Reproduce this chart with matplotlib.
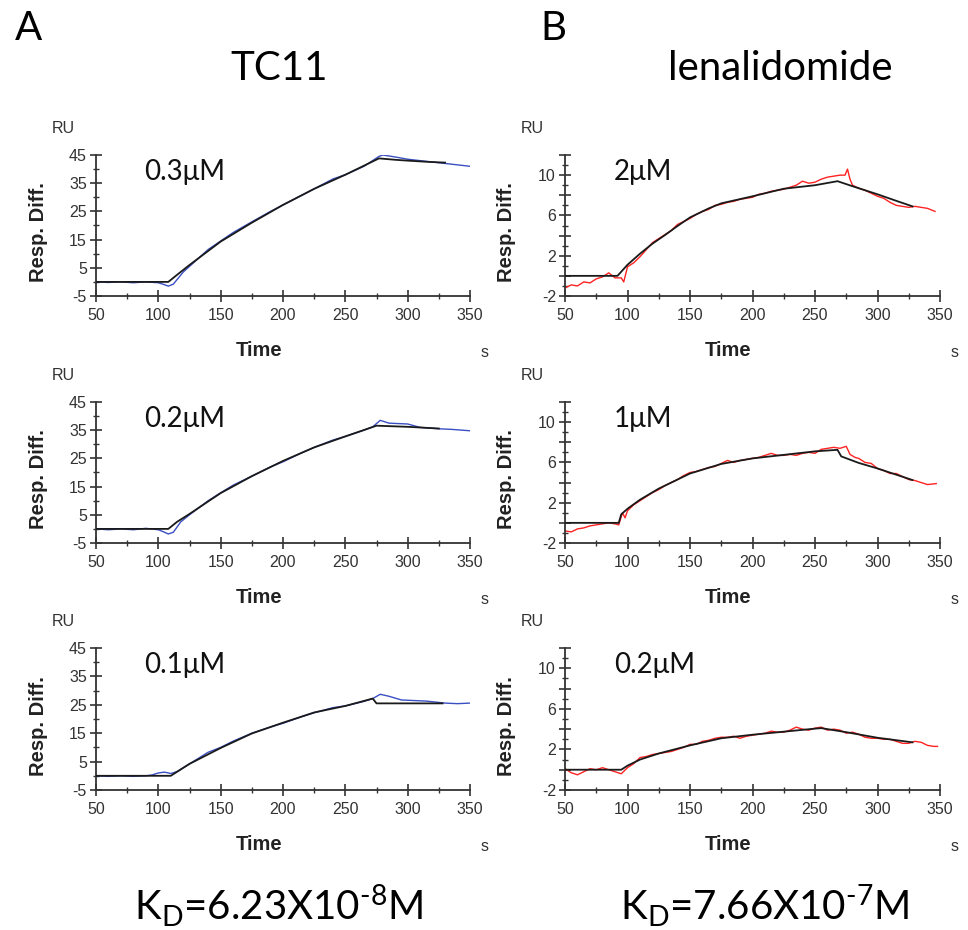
import matplotlib
import matplotlib.pyplot as plt
from matplotlib.ticker import MultipleLocator
matplotlib.use('Agg')

plt.rcParams['font.family'] = ['Lato', 'DejaVu Sans']
plt.rcParams['mathtext.fontset'] = 'custom'
plt.rcParams['mathtext.rm'] = 'Lato'
plt.rcParams['mathtext.default'] = 'rm'

W, H = 968, 930

# ---- TC11 (left column), blue = measured, black = fit ----
tc11_conc = ['0.3μM', '0.2μM', '0.1μM']

tc11_fit_t = [
    [50, 108, 115, 125, 150, 175, 200, 225, 250, 277, 290, 300, 315, 330],
    [50, 108, 115, 125, 150, 175, 200, 225, 250, 275, 300, 325],
    [50, 110, 125, 150, 175, 200, 225, 250, 272, 275, 328],
]
tc11_fit = [
    [0, 0, 2.5, 6, 14.3, 21, 27.3, 33, 38, 43.8, 43.3, 43, 42.6, 42.3],
    [0, 0, 2.5, 5.3, 12.7, 18.7, 24.1, 28.9, 32.8, 36.6, 36.2, 35.6],
    [0, 0, 4.2, 9.8, 14.9, 18.7, 22.3, 24.6, 27.2, 25.5, 25.5],
]
tc11_obs_t = [
    [50, 60, 70, 80, 90, 100, 105, 108, 112, 120, 130, 140, 150, 160, 175, 190,
     200, 215, 225, 240, 250, 265, 277, 280, 290, 300, 310, 320, 330, 340, 350],
    [50, 60, 70, 80, 90, 100, 104, 108, 112, 118, 125, 140, 150, 160, 175, 190,
     200, 215, 225, 240, 250, 265, 272, 278, 285, 300, 310, 325, 335, 350],
    [50, 60, 70, 80, 90, 95, 100, 105, 110, 115, 125, 140, 150, 160, 175, 190,
     200, 215, 225, 240, 250, 265, 272, 278, 285, 295, 305, 315, 330, 340, 350],
]
tc11_obs = [
    [0, -0.2, 0, -0.3, 0, -0.3, -1.0, -1.5, -0.8, 3.5, 7.5, 11.5, 14.5, 17.5, 21.3, 25,
     27.3, 30.7, 33, 36.5, 38, 41, 44.5, 45, 44.3, 43.5, 43, 42.5, 42, 41.5, 41],
    [0, -0.3, 0, -0.3, 0.2, -0.3, -1.0, -1.8, -1.2, 2.5, 5, 10, 12.8, 15.5, 18.7, 22,
     23.8, 27, 28.9, 31.5, 32.8, 35, 36.2, 38.5, 37.5, 37.2, 36, 35.5, 35.3, 34.8],
    [0, -0.2, 0, -0.2, 0, 0.3, 1.0, 1.3, 0.8, 1.5, 4.2, 8.3, 10, 12.2, 15, 17.2,
     18.5, 20.8, 22.2, 24, 24.6, 26.2, 27.2, 28.7, 28, 26.7, 26.5, 26.3, 25.6, 25.4, 25.6],
]

# ---- lenalidomide (right column), red = measured, black = fit ----
len_conc = ['2μM', '1μM', '0.2μM']

len_fit_t = [
    [50, 92, 100, 110, 120, 130, 140, 150, 165, 175, 200, 225, 250, 268, 280, 300, 315, 328],
    [50, 93, 95, 100, 110, 125, 150, 175, 200, 225, 250, 268, 271, 285, 300, 328],
    [50, 95, 100, 110, 125, 150, 175, 200, 225, 250, 255, 275, 300, 328],
]
len_fit = [
    [0, 0, 1.1, 2.2, 3.2, 4.05, 4.95, 5.8, 6.7, 7.2, 7.9, 8.65, 9.0, 9.4, 8.9, 8.1, 7.45, 6.9],
    [0, 0, 0.85, 1.4, 2.3, 3.4, 4.9, 5.85, 6.4, 6.75, 7.1, 7.25, 6.6, 5.95, 5.4, 4.25],
    [0, 0, 0.4, 1.0, 1.6, 2.4, 3.1, 3.45, 3.75, 4.05, 4.1, 3.7, 3.15, 2.7],
]
len_obs_t = [
    [50, 55, 60, 65, 70, 75, 80, 85, 90, 95, 97, 100, 105, 110, 115, 120, 125, 130,
     135, 140, 145, 150, 155, 160, 165, 170, 175, 180, 185, 190, 195, 200, 205, 210,
     215, 220, 225, 230, 235, 240, 245, 250, 255, 260, 265, 270, 274, 276, 278, 280,
     285, 290, 295, 300, 305, 310, 315, 320, 325, 330, 335, 340, 346],
    [50, 55, 60, 65, 70, 75, 80, 85, 90, 93, 96, 98, 100, 105, 110, 115, 120, 125,
     130, 135, 140, 145, 150, 155, 160, 165, 170, 175, 180, 185, 190, 195, 200, 205,
     210, 215, 220, 225, 230, 235, 240, 245, 250, 255, 260, 265, 270, 275, 278, 282,
     285, 290, 295, 300, 305, 310, 315, 320, 325, 330, 335, 340, 347],
    [50, 55, 60, 65, 70, 75, 80, 85, 90, 95, 100, 105, 110, 115, 120, 125, 130, 135,
     140, 145, 150, 155, 160, 165, 170, 175, 180, 185, 190, 195, 200, 205, 210, 215,
     220, 225, 230, 235, 240, 245, 250, 255, 260, 265, 270, 275, 280, 285, 290, 295,
     300, 305, 310, 315, 320, 325, 330, 335, 340, 345, 348],
]
len_obs = [
    [-1.2, -0.9, -1.0, -0.6, -0.7, -0.3, -0.1, 0.3, -0.2, -0.2, -0.6, 0.9, 1.3, 1.9,
     2.6, 3.3, 3.7, 4.1, 4.5, 5.1, 5.4, 5.7, 6.1, 6.4, 6.6, 7.0, 7.1, 7.3, 7.4, 7.6,
     7.7, 7.8, 8.1, 8.2, 8.4, 8.5, 8.6, 8.8, 9.0, 9.4, 9.2, 9.3, 9.6, 9.8, 9.9, 10.0,
     10.0, 10.6, 9.6, 9.0, 8.7, 8.5, 8.2, 7.9, 7.7, 7.3, 7.0, 6.9, 6.8, 6.9, 6.8, 6.7, 6.4],
    [-0.8, -0.9, -0.6, -0.5, -0.3, -0.2, -0.1, 0.0, -0.1, -0.2, 1.0, 0.5, 1.2, 1.8,
     2.2, 2.6, 3.0, 3.3, 3.7, 4.0, 4.3, 4.7, 5.0, 5.1, 5.3, 5.5, 5.6, 5.9, 6.2, 6.0,
     6.2, 6.3, 6.4, 6.5, 6.7, 6.9, 6.7, 6.7, 6.8, 6.7, 6.9, 7.0, 6.9, 7.3, 7.4, 7.5,
     7.4, 7.6, 6.8, 6.5, 6.4, 6.0, 5.9, 5.4, 5.2, 4.9, 4.9, 4.6, 4.3, 4.2, 4.0, 3.8, 3.9],
    [0.1, -0.3, -0.5, -0.2, 0.1, 0.0, 0.2, 0.0, -0.2, -0.4, 0.2, 0.6, 1.2, 1.3, 1.5,
     1.6, 1.7, 1.8, 2.0, 2.2, 2.5, 2.5, 2.8, 2.9, 3.1, 3.2, 3.2, 3.3, 3.1, 3.3, 3.4,
     3.5, 3.6, 3.8, 3.7, 3.7, 3.9, 4.2, 4.0, 3.9, 4.1, 4.2, 3.9, 4.0, 3.9, 3.6, 3.7,
     3.5, 3.2, 3.1, 3.1, 3.0, 3.0, 2.8, 2.6, 2.6, 2.8, 2.7, 2.4, 2.3, 2.3],
]

tc11_yticks = [-5, 5, 15, 25, 35, 45]
len_yticks = [-2, 2, 6, 10]
x_ticks = [50, 100, 150, 200, 250, 300, 350]

# axes boxes in pixels (left, right) and (top, bottom)
left_col = (96, 470)
right_col = (565, 940)
rows = [(155, 296), (402, 543), (648, 790)]

fig = plt.figure(figsize=(W / 100, H / 100), dpi=100)


def make_axes(col, row):
    x0, x1 = col
    y0, y1 = row
    return fig.add_axes([x0 / W, 1 - y1 / H, (x1 - x0) / W, (y1 - y0) / H])


def style_axes(ax, ylim, yticks, ylabels, yminor, conc):
    ax.set_xlim(50, 350)
    ax.set_ylim(*ylim)
    for side in ['top', 'right']:
        ax.spines[side].set_visible(False)
    for side in ['left', 'bottom']:
        ax.spines[side].set_color('#333333')
        ax.spines[side].set_linewidth(1.3)
    ax.set_xticks(x_ticks)
    ax.xaxis.set_minor_locator(MultipleLocator(25))
    ax.yaxis.set_minor_locator(MultipleLocator(yminor))
    ax.set_yticks(yticks)
    ax.set_yticklabels(ylabels)
    ax.tick_params(which='major', direction='inout', length=9, width=1.2,
                   color='#333333', labelsize=11.5, labelcolor='#333333')
    ax.tick_params(which='minor', direction='inout', length=5, width=1.0,
                   color='#333333')
    for lab in ax.get_xticklabels() + ax.get_yticklabels():
        lab.set_family('Liberation Sans')
    ax.tick_params(axis='x', pad=4)
    ax.tick_params(axis='y', pad=2)
    ax.patch.set_alpha(0)
    ax.text(-0.155, 0.45, 'Resp. Diff.', transform=ax.transAxes, rotation=90,
            ha='center', va='center', fontsize=14.5, fontweight='bold',
            family='Liberation Sans', color='#222222')
    ax.text(0.435, -0.385, 'Time', transform=ax.transAxes, ha='center',
            va='center', fontsize=14.5, fontweight='bold',
            family='Liberation Sans', color='#222222')
    ax.text(1.04, -0.40, 's', transform=ax.transAxes, ha='center', va='center',
            fontsize=11.5, family='Liberation Sans', color='#333333')
    ax.text(-0.088, 1.19, 'RU', transform=ax.transAxes, ha='center',
            va='center', fontsize=11.5, family='Liberation Sans',
            color='#333333')
    ax.text(0.13, 0.88, conc, transform=ax.transAxes, ha='left', va='center',
            fontsize=20, color='#111111')


for i, row in enumerate(rows):
    # TC11
    ax = make_axes(left_col, row)
    ax.plot(tc11_obs_t[i], tc11_obs[i], color='#3a4fc2', lw=1.0, zorder=2)
    ax.plot(tc11_fit_t[i], tc11_fit[i], color='#1a1a1a', lw=1.3, zorder=3)
    style_axes(ax, (-5, 45), tc11_yticks, [str(v) for v in tc11_yticks],
               5, tc11_conc[i])

    # lenalidomide
    ax = make_axes(right_col, row)
    ax.plot(len_obs_t[i], len_obs[i], color='#ff2222', lw=1.0, zorder=2)
    ax.plot(len_fit_t[i], len_fit[i], color='#1a1a1a', lw=1.3, zorder=3)
    ticks = list(range(-2, 13, 2))
    labels = [str(v) if v in len_yticks else '' for v in ticks]
    style_axes(ax, (-2, 12), ticks, labels, 1, len_conc[i])

# panel letters, titles and KD values
fig.text(15 / W, 1 - 40 / H, 'A', fontsize=29, ha='left', va='baseline')
fig.text(540 / W, 1 - 40 / H, 'B', fontsize=29, ha='left', va='baseline')
fig.text(279 / W, 1 - 80 / H, 'TC11', fontsize=29, ha='center', va='baseline')
fig.text(780 / W, 1 - 80 / H, 'lenalidomide', fontsize=29, ha='center',
         va='baseline')
fig.text(279 / W, 1 - 920 / H, r'K$_\mathregular{D}$=6.23X10$^\text{-8}$M',
         fontsize=29, ha='center', va='baseline')
fig.text(765 / W, 1 - 920 / H, r'K$_\mathregular{D}$=7.66X10$^\text{-7}$M',
         fontsize=29, ha='center', va='baseline')

fig.savefig('out.png', dpi=100, facecolor='white')
